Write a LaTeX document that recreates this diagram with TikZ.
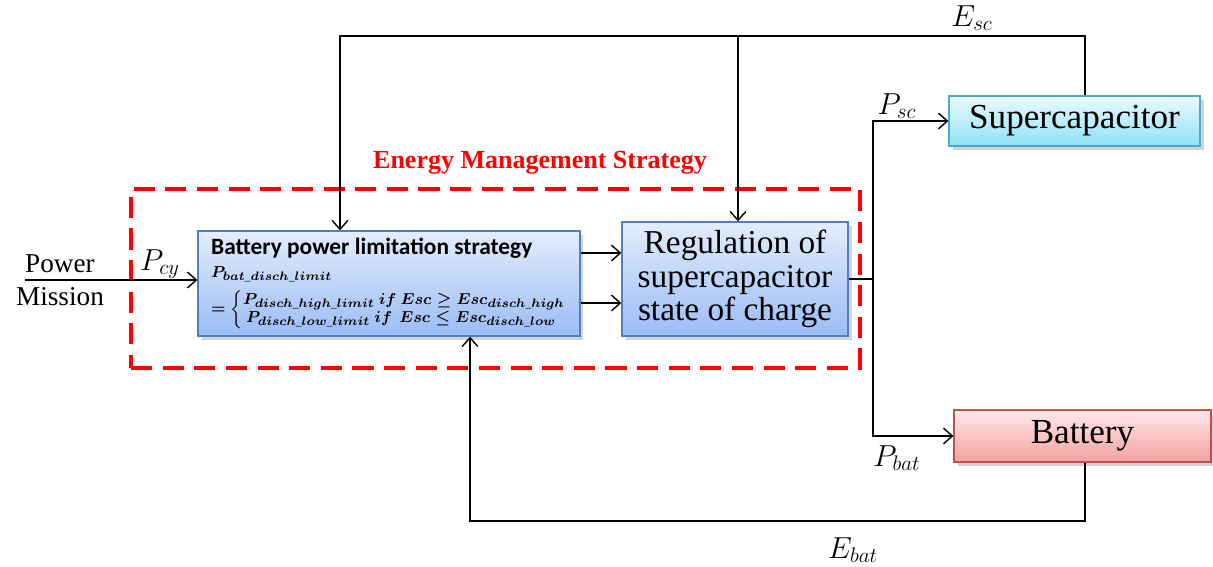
\documentclass[tikz,border=0pt]{standalone}
\usepackage{fontspec}
\setmainfont{Liberation Serif}
\newfontfamily\calibri{Carlito}
\usepackage{amsmath}
\usetikzlibrary{arrows.meta,shadows}
\tikzset{>={Straight Barb[length=5pt,width=9pt]}}
\definecolor{blueedge}{HTML}{4F81BD}
\definecolor{bluetop}{HTML}{E3EDFC}
\definecolor{bluebot}{HTML}{9BBCF4}
\definecolor{cyanedge}{HTML}{4BACC6}
\definecolor{cyantop}{HTML}{EAFBFF}
\definecolor{cyanbot}{HTML}{8EE2F4}
\definecolor{rededge}{HTML}{C0504D}
\definecolor{redtop}{HTML}{FFE9E9}
\definecolor{redbot}{HTML}{F3A0A0}
\tikzset{
  boxnode/.style={line width=0.8pt,drop shadow={opacity=0.35,shadow xshift=2pt,shadow yshift=-2pt}},
  bluebox/.style={boxnode,draw=blueedge,top color=bluetop,bottom color=bluebot},
  cyanbox/.style={boxnode,draw=cyanedge,top color=cyantop,bottom color=cyanbot},
  redbox/.style={boxnode,draw=rededge,top color=redtop,bottom color=redbot}
}

\begin{document}
\begin{tikzpicture}[x=0.02cm,y=-0.02cm]
\useasboundingbox (0,0) rectangle (1213,567);

% dashed frame of the strategy
\node[draw=red,line width=2.3pt,dash pattern=on 12pt off 6pt,
      minimum width=14.58cm,minimum height=3.58cm] (ems) at (495.5,278.5) {};
\node[text=red,font=\bfseries\fontsize{14.8}{17}\selectfont] (emstitle) at (540,163) {Energy Management Strategy};

\node[bluebox,minimum width=7.64cm,minimum height=2.1cm,inner sep=2pt] (bpl) at (389,283.5)
  {\begin{tabular}{@{}l@{}}
   {\calibri\bfseries\fontsize{13.3}{15}\selectfont Battery power limitation strategy}\\[1pt]
   \fontsize{9.4}{10}\selectfont\boldmath $P_{bat\_disch\_limit}$\\[4pt]
   \fontsize{9.4}{10}\selectfont\boldmath
   $=\left\{\begin{array}{@{}l@{}}
     P_{disch\_high\_limit}\ if\ Esc\geq Esc_{disch\_high}\\[0pt]
     \,P_{disch\_low\_limit}\ if\ \,Esc\leq Esc_{disch\_low}
   \end{array}\right.$
   \end{tabular}};
\node[bluebox,minimum width=4.52cm,minimum height=2.28cm,align=center,
      font=\fontsize{19}{19}\selectfont] (reg) at (735,279)
  {Regulation of\\supercapacitor\\state of charge};
\node[cyanbox,minimum width=5.02cm,minimum height=1.0cm,
      font=\fontsize{20}{22}\selectfont] (sc) at (1074.5,121) {Supercapacitor};
\node[redbox,minimum width=5.14cm,minimum height=1.04cm,
      font=\fontsize{20}{22}\selectfont] (bat) at (1082.5,436) {Battery};

\node[align=center,font=\fontsize{15.5}{17}\selectfont] (pm) at (60,280) {Power\\[2pt]Mission};

% labels
\begin{scope}[every node/.style={font=\fontsize{17}{19}\selectfont}]
\node (pcy) at (160,264) {$P_{cy}$};
\node (esc) at (972,18) {$E_{sc}$};
\node (psc) at (897,106) {$P_{sc}$};
\node (pbat) at (897,458) {$P_{bat}$};
\node (ebat) at (853,550) {$E_{bat}$};
\end{scope}

\coordinate (pin) at (25,280);
\coordinate (fbr) at (1085,36);
\coordinate (fbm) at (738,36);
\coordinate (fbl) at (340,36);
\coordinate (l1) at (600,253);
\coordinate (l2) at (600,303);
\coordinate (split) at (873,279);
\coordinate (ebr) at (1085,521);
\coordinate (ebl) at (470,521);

\begin{scope}[line width=0.8pt]
\draw[->] (pin) -- (bpl.west |- pin);
\draw[->] (sc.north -| fbr) -- (fbr) -- (fbl) -- (bpl.north -| fbl);
\draw[->] (fbm) -- (reg.north -| fbm);
\draw[->] (bpl.east |- l1) -- (reg.west |- l1);
\draw[->] (bpl.east |- l2) -- (reg.west |- l2);
\draw (reg.east) -- (split);
\draw[->] (split) |- (sc.west);
\draw[->] (split) |- (bat.west);
\draw[->] (bat.south -| ebr) -- (ebr) -- (ebl) -- (bpl.south -| ebl);
\end{scope}
\end{tikzpicture}
\end{document}
